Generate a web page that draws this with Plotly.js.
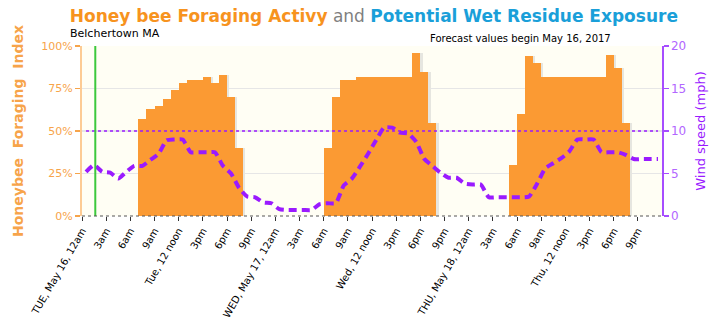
<!DOCTYPE html>
<html>
<head>
<meta charset="utf-8">
<script src="https://cdn.plot.ly/plotly-3.0.1.min.js"></script>
<style>html,body{margin:0;padding:0;background:#fff;}#chart{width:726px;height:328px;}</style>
</head>
<body>
<div id="chart"></div>
<script>
// Hour index from Tue May 16, 12am (0) to Thu May 18, 11pm (71)
const hours = Array.from({length: 72}, (_, i) => i);

// Honeybee foraging index (%) per hour
const foraging = [
  0, 0, 0, 0, 0, 0, 0, 57, 63, 65, 69, 74, 78, 80, 80, 82, 78, 83, 70, 40, 0, 0, 0, 0,
  0, 0, 0, 0, 0, 0, 40, 70, 80, 80, 82, 82, 82, 82, 82, 82, 82, 96, 85, 55, 0, 0, 0, 0,
  0, 0, 0, 0, 0, 30, 60, 94, 90, 82, 82, 82, 82, 82, 82, 82, 82, 95, 87, 55, 0, 0, 0, 0
];

// Wind speed (mph) per hour
const wind = [
  5.2, 6.0, 5.2, 5.1, 4.4, 5.2, 5.9, 5.9, 6.6, 7.3, 8.9, 9.0, 9.0, 7.5, 7.5, 7.5, 7.5, 5.9, 5.0, 3.3, 2.3, 2.2, 1.6, 1.5,
  0.8, 0.7, 0.7, 0.7, 0.7, 1.4, 1.5, 1.5, 3.6, 4.4, 5.8, 7.3, 8.9, 10.4, 10.4, 9.8, 9.7, 8.7, 6.7, 5.9, 5.1, 4.5, 4.5, 3.8,
  3.7, 3.7, 2.2, 2.2, 2.2, 2.2, 2.2, 2.3, 3.8, 5.6, 6.2, 6.8, 7.6, 9.0, 9.0, 9.0, 7.5, 7.5, 7.5, 7.2, 6.7, 6.7, 6.7, 6.7
];

// Wind threshold (mph)
const threshold = hours.map(() => 10);

// Forecast start marker (hours)
const nowHour = 1.65;

// X tick positions (hours) and labels
const tickHours = [0, 3, 6, 9, 12, 15, 18, 21, 24, 27, 30, 33, 36, 39, 42, 45, 48, 51, 54, 57, 60, 63, 66, 69];
const tickLabels = [
  "TUE, May 16, 12am", "3am", "6am", "9am", "Tue, 12 noon", "3pm", "6pm", "9pm",
  "WED, May 17, 12am", "3am", "6am", "9am", "Wed, 12 noon", "3pm", "6pm", "9pm",
  "THU, May 18, 12am", "3am", "6am", "9am", "Thu, 12 noon", "3pm", "6pm", "9pm"
];

const mid = hours.map(h => h + 0.5);

const traces = [
  {
    type: 'bar', x: hours, y: foraging, offset: 0.28, width: 1,
    marker: {color: '#E6E6E0', line: {width: 0}},
    hoverinfo: 'skip', showlegend: false
  },
  {
    type: 'bar', x: hours, y: foraging, offset: 0, width: 1,
    marker: {color: '#FB9A33', line: {width: 0}},
    hoverinfo: 'skip', showlegend: false
  },
  {
    type: 'scatter', mode: 'lines', x: mid, y: threshold, yaxis: 'y2',
    line: {color: '#9A1AFF', width: 1.5, dash: 'dot'},
    hoverinfo: 'skip', showlegend: false
  },
  {
    type: 'scatter', mode: 'lines', x: mid, y: wind, yaxis: 'y2',
    line: {color: '#9A1AFF', width: 4, dash: '8px,5px', shape: 'spline', smoothing: 0.5},
    hoverinfo: 'skip', showlegend: false
  }
];

const layout = {
  width: 726, height: 328,
  margin: {l: 82, r: 64, t: 46, b: 112},
  paper_bgcolor: '#FFFFFF',
  plot_bgcolor: '#FFFEF4',
  font: {family: 'DejaVu Sans, sans-serif', size: 10, color: '#000'},
  barmode: 'overlay',
  bargap: 0,
  title: {
    text: '<b><span style="color:#F7931E">Honey bee Foraging Activy</span></b> <span style="color:#7F7F7F">and</span> <b><span style="color:#1A9FD9">Potential Wet Residue Exposure</span></b>',
    font: {family: 'DejaVu Sans, sans-serif', size: 17},
    x: 0.515, xanchor: 'center', xref: 'container',
    y: 0.951, yanchor: 'middle', yref: 'container'
  },
  xaxis: {
    range: [0, 72], tickmode: 'array', tickvals: tickHours, ticktext: tickLabels,
    tickangle: -60, ticks: 'outside', ticklen: 4, tickcolor: '#333',
    tickfont: {family: 'DejaVu Sans, sans-serif', size: 10, color: '#000'},
    showgrid: false, zeroline: false, showline: false, fixedrange: true
  },
  yaxis: {
    range: [0, 100], tickvals: [0, 25, 50, 75, 100], ticktext: ['0%', '25%', '50%', '75%', '100%'],
    ticks: 'outside', ticklen: 5, tickcolor: '#F7A44A', tickwidth: 1.5,
    tickfont: {family: 'DejaVu Sans, sans-serif', size: 11, color: '#F7A44A'},
    showline: true, linecolor: '#FDCB94', linewidth: 2,
    showgrid: true, gridcolor: '#E6E6E6', gridwidth: 1.5, zeroline: false,
    title: {text: '<b>Honeybee  Foraging  Index</b>', font: {family: 'DejaVu Sans, sans-serif', size: 14, color: '#F7A44A'}, standoff: 14}
  },
  yaxis2: {
    range: [0, 20], tickvals: [0, 5, 10, 15, 20], overlaying: 'y', side: 'right',
    ticks: 'outside', ticklen: 5, tickcolor: '#A64DFF', tickwidth: 1.5,
    tickfont: {family: 'DejaVu Sans, sans-serif', size: 12, color: '#B266FF'},
    showline: true, linecolor: '#A64DFF', linewidth: 1.5,
    showgrid: false, zeroline: false,
    title: {text: 'Wind speed (mph)', font: {family: 'DejaVu Sans, sans-serif', size: 13, color: '#9A1AFF'}, standoff: 10}
  },
  shapes: [
    {type: 'line', xref: 'x', yref: 'paper', x0: nowHour, x1: nowHour, y0: 0, y1: 1,
     line: {color: '#3CC83C', width: 2}},
    {type: 'line', xref: 'paper', yref: 'paper', x0: 0, x1: 1, y0: 0, y1: 0,
     line: {color: '#555', width: 1, dash: 'dot'}}
  ],
  annotations: [
    {text: 'Belchertown MA', xref: 'paper', yref: 'paper', x: -0.024, y: 1.076,
     xanchor: 'left', yanchor: 'middle', showarrow: false,
     font: {family: 'DejaVu Sans, sans-serif', size: 11, color: '#000'}},
    {text: 'Forecast values begin May 16, 2017', xref: 'paper', yref: 'paper', x: 0.916, y: 1.044,
     xanchor: 'right', yanchor: 'middle', showarrow: false,
     font: {family: 'DejaVu Sans, sans-serif', size: 10, color: '#000'}}
  ]
};

Plotly.newPlot('chart', traces, layout, {displayModeBar: false, staticPlot: true});
</script>
</body>
</html>
